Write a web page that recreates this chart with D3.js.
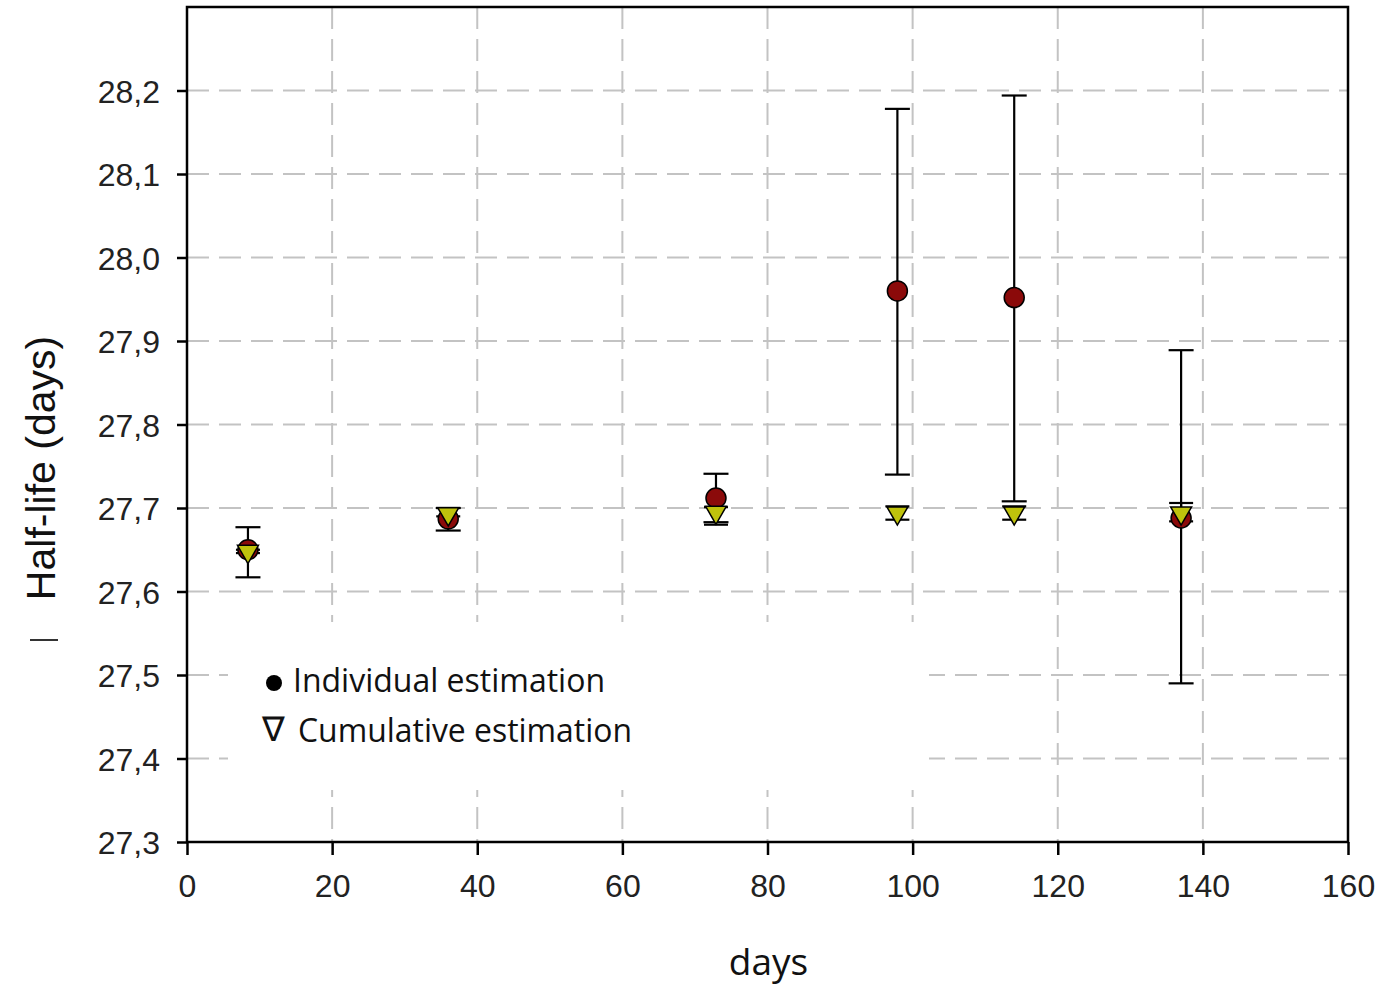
<!DOCTYPE html>
<html>
<head>
<meta charset="utf-8">
<script src="https://cdn.jsdelivr.net/npm/d3@7"></script>
<style>
  body { margin: 0; background: #fff; }
  svg { display: block; }
</style>
</head>
<body>
<svg width="1382" height="985"></svg>
<script>
// measurement days
const days = [8.4, 36.0, 72.9, 97.9, 114.0, 137.0];

// individual estimation: value, low, high
const indValue = [27.650, 27.687, 27.712, 27.960, 27.952, 27.688];
const indLow   = [27.617, 27.673, 27.683, 27.740, 27.708, 27.490];
const indHigh  = [27.677, 27.700, 27.741, 28.178, 28.194, 27.889];

// cumulative estimation: value, low, high
const cumValue = [27.648, 27.693, 27.695, 27.694, 27.694, 27.694];
const cumLow   = [27.646, 27.690, 27.680, 27.686, 27.686, 27.684];
const cumHigh  = [27.650, 27.700, 27.701, 27.702, 27.702, 27.706];

const xTicks = [0, 20, 40, 60, 80, 100, 120, 140, 160];
const yTicks = [27.3, 27.4, 27.5, 27.6, 27.7, 27.8, 27.9, 28.0, 28.1, 28.2];

const svg = d3.select("svg");
const margin = {top: 7, right: 34, bottom: 143, left: 187},
      width = +svg.attr("width") - margin.left - margin.right,
      height = +svg.attr("height") - margin.top - margin.bottom;

const g = svg.append("g").attr("transform", `translate(${margin.left},${margin.top})`);

const x = d3.scaleLinear().domain([0, 160]).range([0, width]);
const y = d3.scaleLinear().domain([27.3, 28.3]).range([height, 0]);

const fmt = d => d3.format(".1f")(d).replace(".", ",");

// grid
const grid = g.append("g").attr("stroke", "#c3c3c3").attr("stroke-width", 2)
    .attr("stroke-dasharray", "22,10");
grid.selectAll(".hg").data(yTicks.slice(1)).enter().append("line")
    .attr("x1", 0).attr("x2", width)
    .attr("y1", d => y(d)).attr("y2", d => y(d));
grid.selectAll(".vg").data(xTicks.slice(1, -1)).enter().append("line")
    .attr("y1", 0).attr("y2", height)
    .attr("x1", d => x(d)).attr("x2", d => x(d));

// legend background hides grid
g.append("rect")
    .attr("x", 228 - margin.left).attr("y", 622 - margin.top)
    .attr("width", 701).attr("height", 168)
    .attr("fill", "#fff");

// axes
const xAxis = g.append("g")
    .attr("transform", `translate(0,${height})`)
    .call(d3.axisBottom(x).tickValues(xTicks).tickSize(13).tickPadding(19).tickFormat(d3.format("d")));
const yAxis = g.append("g")
    .call(d3.axisLeft(y).tickValues(yTicks).tickSize(10).tickPadding(17).tickFormat(fmt));

[xAxis, yAxis].forEach(a => {
  a.select(".domain").remove();
  a.selectAll(".tick line").attr("stroke", "#000").attr("stroke-width", 2.5);
  a.selectAll(".tick text")
      .attr("font-family", "Liberation Sans, Arial, sans-serif")
      .attr("font-size", 32).attr("fill", "#222");
});
yAxis.selectAll(".tick text").attr("dy", "0.36em");

// frame
g.append("rect")
    .attr("width", width).attr("height", height)
    .attr("fill", "none").attr("stroke", "#000").attr("stroke-width", 2.5);

// error bars
function errorBars(lows, highs, cap) {
  const eb = g.append("g").attr("stroke", "#000").attr("stroke-width", 2.2);
  days.forEach((d, i) => {
    const cx = x(d);
    eb.append("line").attr("x1", cx).attr("x2", cx)
        .attr("y1", y(lows[i])).attr("y2", y(highs[i]));
    eb.append("line").attr("x1", cx - cap).attr("x2", cx + cap)
        .attr("y1", y(lows[i])).attr("y2", y(lows[i]));
    eb.append("line").attr("x1", cx - cap).attr("x2", cx + cap)
        .attr("y1", y(highs[i])).attr("y2", y(highs[i]));
  });
}
errorBars(indLow, indHigh, 12.5);
errorBars(cumLow, cumHigh, 12);

// individual points
g.selectAll(".ind").data(days).enter().append("circle")
    .attr("cx", d => x(d))
    .attr("cy", (d, i) => y(indValue[i]))
    .attr("r", 10)
    .attr("fill", "#8b0a0a").attr("stroke", "#000").attr("stroke-width", 1.5);

// cumulative points (down triangle)
const tri = d3.symbol().type(d3.symbolTriangle).size(190);
g.selectAll(".cum").data(days).enter().append("path")
    .attr("d", tri)
    .attr("transform", (d, i) => `translate(${x(d)},${y(cumValue[i])}) rotate(180)`)
    .attr("fill", "#bfc20c").attr("stroke", "#000").attr("stroke-width", 1.5);

// legend
const legFont = "Open Sans, Segoe UI, sans-serif";
svg.append("circle").attr("cx", 274).attr("cy", 683).attr("r", 8).attr("fill", "#000");
svg.append("text").attr("x", 293).attr("y", 692)
    .attr("font-family", legFont).attr("font-size", 32).attr("fill", "#111")
    .attr("textLength", 312).attr("lengthAdjust", "spacingAndGlyphs")
    .text("Individual estimation");
svg.append("text").attr("x", 262).attr("y", 741)
    .attr("font-family", legFont).attr("font-size", 34).attr("fill", "#111")
    .text("∇");
svg.append("text").attr("x", 298).attr("y", 742)
    .attr("font-family", legFont).attr("font-size", 32).attr("fill", "#111")
    .attr("textLength", 334).attr("lengthAdjust", "spacingAndGlyphs")
    .text("Cumulative estimation");

// axis titles
svg.append("text")
    .attr("x", margin.left + width / 2 + 1).attr("y", 975)
    .attr("text-anchor", "middle")
    .attr("font-family", legFont).attr("font-size", 37).attr("fill", "#111")
    .text("days");
svg.append("text")
    .attr("transform", "translate(55,468) rotate(-90)")
    .attr("text-anchor", "middle")
    .attr("font-family", "Liberation Sans, Arial, sans-serif").attr("font-size", 41).attr("fill", "#111")
    .text("Half-life (days)");
svg.append("line")
    .attr("x1", 30).attr("x2", 58).attr("y1", 640).attr("y2", 640)
    .attr("stroke", "#333").attr("stroke-width", 2);
</script>
</body>
</html>
